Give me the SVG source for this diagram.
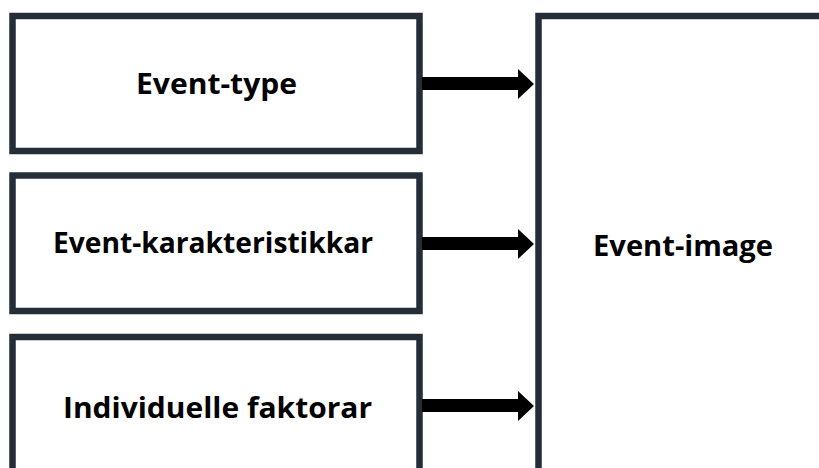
<svg xmlns="http://www.w3.org/2000/svg" width="819" height="468" viewBox="0 0 819 468">
<style>
.box{fill:#fff;stroke:#252d39;stroke-width:6.5}
.lbl{font-family:"Open Sans","Noto Sans",sans-serif;font-weight:700;font-size:28.5px;fill:#000;text-anchor:middle}
.arr{fill:#000}
</style>
<rect width="819" height="468" fill="#fff"/>
<g id="event-type">
<rect class="box" x="12.5" y="16" width="407" height="135"/>
<text class="lbl" x="216.5" y="93.5" textLength="161" lengthAdjust="spacingAndGlyphs">Event-type</text>
</g>
<g id="event-karakteristikkar">
<rect class="box" x="12.5" y="175.5" width="407" height="135.5"/>
<text class="lbl" x="213" y="252.5" textLength="320" lengthAdjust="spacingAndGlyphs">Event-karakteristikkar</text>
</g>
<g id="individuelle-faktorar">
<rect class="box" x="12.5" y="337" width="407" height="140"/>
<text class="lbl" x="217.5" y="418" textLength="309" lengthAdjust="spacingAndGlyphs">Individuelle faktorar</text>
</g>
<g id="event-image">
<rect class="box" x="538.5" y="16" width="300" height="470"/>
<text class="lbl" x="683" y="256" textLength="180" lengthAdjust="spacingAndGlyphs">Event-image</text>
</g>
<g id="connectors">
<polygon class="arr" points="422,77 518,77 518,69 534,84 518,99 518,90 422,90"/>
<polygon class="arr" points="422,237 518,237 518,229 534,244 518,259 518,250 422,250"/>
<polygon class="arr" points="422,399 518,399 518,391 534,406 518,421 518,412 422,412"/>
</g>
</svg>
